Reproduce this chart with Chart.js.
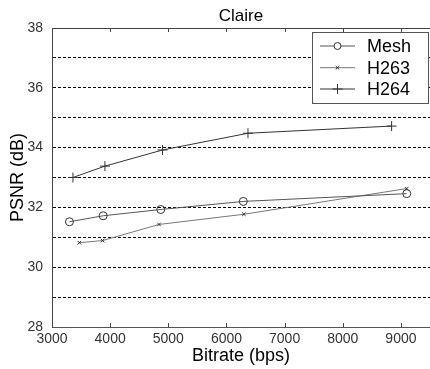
<!DOCTYPE html>
<html>
<head>
<meta charset="utf-8">
<script src="https://cdn.jsdelivr.net/npm/chart.js@4.4.1/dist/chart.umd.min.js"></script>
<style>
  html, body { margin: 0; padding: 0; background: #fff; }
  #wrap { width: 430px; height: 369px; }
</style>
</head>
<body>
<div id="wrap"><canvas id="chart-psnr"></canvas></div>
<script>
// Data (bitrate in bps, PSNR in dB)
const bitrateMesh = [3300, 3880, 4870, 6290, 9100];
const psnrMesh = [31.52, 31.72, 31.93, 32.20, 32.46];

const bitrateH263 = [3470, 3870, 4840, 6300, 9100];
const psnrH263 = [30.82, 30.89, 31.43, 31.77, 32.63];

const bitrateH264 = [3360, 3910, 4900, 6370, 8840];
const psnrH264 = [33.00, 33.38, 33.92, 34.48, 34.72];

const seriesNames = ["Mesh", "H263", "H264"];
const xTickValues = [3000, 4000, 5000, 6000, 7000, 8000, 9000];
const yLabelEvery = 2; // only even dB values get a label

const FONT = "'Liberation Sans', Arial, sans-serif";

function toPoints(xs, ys){
  return xs.map((x, i) => ({ x: x, y: ys[i] }));
}

// inward tick marks + top border, like the matlab figure
const axisBox = {
  id: "axisBox",
  afterDatasetsDraw(chart){
    const { ctx, chartArea: a, scales } = chart;
    ctx.save();
    ctx.strokeStyle = "#444";
    ctx.lineWidth = 1;
    ctx.beginPath();
    ctx.moveTo(a.left, a.top + 0.5);
    ctx.lineTo(a.right, a.top + 0.5);
    scales.x.ticks.forEach(t => {
      if (t.value <= scales.x.min) return;
      const px = Math.round(scales.x.getPixelForValue(t.value)) + 0.5;
      ctx.moveTo(px, a.bottom);
      ctx.lineTo(px, a.bottom - 4);
      ctx.moveTo(px, a.top);
      ctx.lineTo(px, a.top + 4);
    });
    ctx.stroke();
    ctx.restore();
  }
};

// legend drawn inside the plot area, top right
const legendBox = {
  id: "legendBox",
  afterDraw(chart){
    const { ctx, chartArea: a } = chart;
    const x0 = a.right - 118, y0 = a.top + 4, w = 116, h = 71;
    ctx.save();
    ctx.fillStyle = "#fff";
    ctx.fillRect(x0, y0, w, h);
    ctx.strokeStyle = "#555";
    ctx.lineWidth = 1;
    ctx.strokeRect(x0 + 0.5, y0 + 0.5, w, h);
    const rows = [14, 35.7, 57];
    chart.data.datasets.forEach((ds, i) => {
      const y = y0 + rows[i];
      ctx.strokeStyle = ds.borderColor;
      ctx.lineWidth = 1;
      ctx.beginPath();
      ctx.moveTo(x0 + 8, y);
      ctx.lineTo(x0 + 43, y);
      ctx.stroke();
      if (Chart.helpers && Chart.helpers.drawPoint) {
        ctx.strokeStyle = ds.pointBorderColor;
        ctx.fillStyle = "#fff";
        Chart.helpers.drawPoint(ctx, {
          pointStyle: ds.pointStyle,
          radius: ds.legendRadius,
          borderWidth: 1
        }, x0 + 25.5, y);
      }
      ctx.fillStyle = "#000";
      ctx.font = "18px " + FONT;
      ctx.textBaseline = "middle";
      ctx.textAlign = "left";
      ctx.fillText(ds.label, x0 + 55, y + 1);
    });
    ctx.restore();
  }
};

function lineSet(label, xs, ys, color, style, r, lr){
  return {
    label: label,
    data: toPoints(xs, ys),
    borderColor: color,
    borderWidth: 1,
    pointStyle: style,
    pointRadius: r,
    legendRadius: lr,
    pointBorderColor: "#333",
    pointBackgroundColor: "rgba(0,0,0,0)",
    pointBorderWidth: 1,
    fill: false,
    tension: 0
  };
}

new Chart(document.getElementById("chart-psnr"), {
  type: "line",
  data: {
    datasets: [
      lineSet(seriesNames[0], bitrateMesh, psnrMesh, "#555", "circle", 4, 3.5),
      lineSet(seriesNames[1], bitrateH263, psnrH263, "#777", "crossRot", 2.5, 2.5),
      lineSet(seriesNames[2], bitrateH264, psnrH264, "#333", "cross", 5, 5)
    ]
  },
  options: {
    responsive: true,
    maintainAspectRatio: false,
    animation: false,
    layout: { padding: 0, autoPadding: false },
    plugins: {
      legend: { display: false },
      tooltip: { enabled: false },
      title: {
        display: true,
        text: "Claire",
        fullSize: false,
        color: "#000",
        font: { family: FONT, size: 17, weight: "normal", lineHeight: 1.2 },
        padding: { top: 6, bottom: 1.6 }
      }
    },
    scales: {
      x: {
        type: "linear",
        min: 3000,
        max: 9500,
        afterFit(s){ s.height = 42; },
        afterBuildTicks(s){ s.ticks = xTickValues.map(v => ({ value: v })); },
        ticks: {
          autoSkip: false,
          color: "#333",
          padding: 4,
          maxRotation: 0,
          font: { family: FONT, size: 14 },
          callback: v => v
        },
        grid: { display: false, drawTicks: false },
        border: { display: true, color: "#555", width: 1 },
        title: {
          display: true,
          text: "Bitrate (bps)",
          color: "#000",
          font: { family: FONT, size: 18, lineHeight: 1.2 },
          padding: { top: 0, bottom: 2 }
        }
      },
      y: {
        min: 28,
        max: 38,
        afterFit(s){ s.width = 52; },
        ticks: {
          stepSize: 1,
          autoSkip: false,
          color: "#333",
          padding: 9,
          font: { family: FONT, size: 14 },
          callback: v => (v % yLabelEvery === 0 ? v : "")
        },
        grid: {
          drawTicks: false,
          lineWidth: 1,
          color: c => (c.tick && (c.tick.value === 28 || c.tick.value === 38)) ? "rgba(0,0,0,0)" : "#000"
        },
        border: { display: true, color: "#444", width: 1, dash: [3, 2] },
        title: {
          display: true,
          text: "PSNR (dB)",
          color: "#000",
          font: { family: FONT, size: 18, lineHeight: 1.2 },
          padding: { top: 7, bottom: 0 }
        }
      }
    }
  },
  plugins: [axisBox, legendBox]
});
</script>
</body>
</html>
